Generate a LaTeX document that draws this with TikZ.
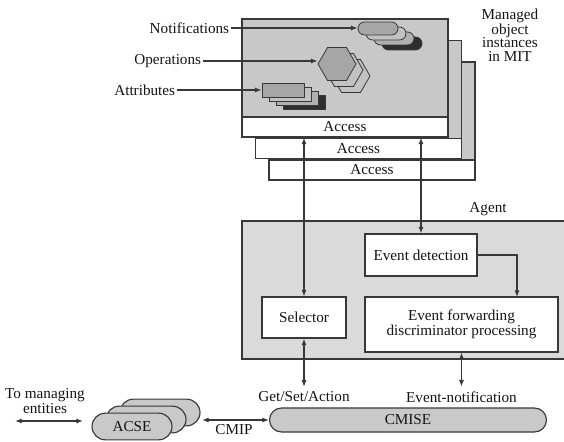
\documentclass[tikz,border=0pt]{standalone}
\usepackage{fontspec}
\setmainfont{Liberation Serif}
\usetikzlibrary{shapes.geometric,shapes.misc,arrows.meta}
\definecolor{ink}{HTML}{383838}
\definecolor{mitgray}{HTML}{C8C8C8}
\definecolor{agentgray}{HTML}{DADADA}
\definecolor{pillgray}{HTML}{C9C9C9}
\definecolor{tone1}{HTML}{A6A6A6}
\definecolor{tone2}{HTML}{C2C2C2}
\definecolor{tone3}{HTML}{B0B0B0}
\definecolor{tone4}{HTML}{2E2E2E}
\begin{document}
\begin{tikzpicture}[x=0.75pt,y=-0.75pt,
  font=\fontsize{11.4}{12}\selectfont,
  line width=0.85pt, draw=ink, text=black!92,
  tip/.tip={Latex[length=5pt,width=3.8pt]},
  arr/.style={draw=ink,-tip},
  dbl/.style={draw=ink,tip-tip},
  procbox/.style={draw=ink,fill=white,inner sep=0pt,align=center},
  accessband/.style={draw=ink,fill=white,inner sep=0pt,minimum width=154.5pt,minimum height=15pt},
  mitbox/.style={draw=ink,fill=mitgray},
  pill/.style={rounded rectangle,draw=ink,fill=pillgray,inner sep=0pt},
  chip/.style={draw=ink,line width=0.6pt,inner sep=0pt},
  capsule/.style={chip,rounded rectangle,minimum width=30pt,minimum height=9.75pt},
  tile/.style={chip,rectangle,minimum width=31.5pt,minimum height=10.5pt},
  hexa/.style={chip,regular polygon,regular polygon sides=6,minimum size=28.5pt},
  lbl/.style={inner sep=1pt}]
\useasboundingbox (0,0) rectangle (564,442);

% Managed object instances: three stacked boxes, back to front
\foreach \k/\nm in {2/acc2,1/acc1,0/acc0}{
  \filldraw[mitbox] (242+13.5*\k,19+21.5*\k) rectangle (448+13.5*\k,137+21.5*\k);
  \node[accessband] (\nm) at (345+13.5*\k,127+21.5*\k) {Access};
}

% Notifications stack
\node[capsule,fill=tone4] (notif3) at (402,43.5) {};
\node[capsule,fill=tone3] (notif2) at (394,38.5) {};
\node[capsule,fill=tone2] (notif1) at (386,33.5) {};
\node[capsule,fill=tone1] (notif0) at (378,28.5) {};

% Operations stack
\node[hexa,fill=tone2] (hex2) at (351,76) {};
\node[hexa,fill=tone2] (hex1) at (344,70) {};
\node[hexa,fill=tone1] (hex0) at (337,64) {};

% Attributes stack
\node[tile,fill=tone4] (attr3) at (304,102) {};
\node[tile,fill=tone3] (attr2) at (297,98) {};
\node[tile,fill=tone2] (attr1) at (290,94) {};
\node[tile,fill=tone1] (attr0) at (283,90) {};

\node[lbl,anchor=east] (ntxt) at (231,28) {Notifications};
\node[lbl,anchor=east] (otxt) at (203,61) {Operations};
\node[lbl,anchor=east] (atxt) at (177,90) {Attributes};
\draw[arr] (ntxt.east) -- (ntxt.east -| notif0.west);
\draw[arr] (otxt.east) -- (otxt.east -| hex0.west);
\draw[arr] (atxt.east) -- (atxt.east -| attr0.west);

\node[align=center,inner sep=0pt,font=\fontsize{11.4}{10}\selectfont] (mit) at (510,35)
  {Managed\\object\\instances\\in MIT};

% Agent
\filldraw[draw=ink,fill=agentgray] (242,221) rectangle (570,359);
\node (agent) at (488,209) {Agent};
\node[procbox,minimum width=84pt,minimum height=31.5pt] (ed) at (421,255) {Event detection};
\node[procbox,minimum width=63pt,minimum height=30.75pt] (sel) at (304,317.5) {Selector};
\node[procbox,minimum width=144.75pt,minimum height=41.25pt,
      font=\fontsize{11.4}{11}\selectfont] (ef) at (461.5,324.5)
  {Event forwarding\\discriminator processing};
\coordinate (efin) at (517,297);

\draw[dbl] (sel.north |- acc0.south) -- (sel.north);
\draw[dbl] (ed.north |- acc0.south) -- (ed.north);
\draw[arr] (ed.east) -| (efin);

\node (gsa) at (304,397) {Get/Set/Action};
\node (evn) at (461.5,397) {Event-notification};
\draw[dbl] (sel.south) -- (gsa.north);
\draw[dbl] (ef.south) -- (evn.north);

% CMISE and ACSE
\node[pill,minimum width=207.75pt,minimum height=18pt] (cmise) at (408,420) {CMISE};
\node[pill,minimum width=60pt,minimum height=20pt] (acse2) at (160,412.5) {};
\node[pill,minimum width=60pt,minimum height=20pt] (acse1) at (146,419.5) {};
\node[pill,minimum width=60pt,minimum height=20pt] (acse0) at (132,426.5) {ACSE};
\coordinate (cmipl) at (202,420);
\draw[dbl] (cmipl) -- (cmise.west);
\node (cmip) at (234,430) {CMIP};

\node[align=center,font=\fontsize{11.4}{9.2}\selectfont] (tme) at (45,401) {To managing\\entities};
\coordinate (tm1) at (15,421);
\coordinate (tm2) at (83,421);
\draw[dbl] (tm1) -- (tm2);
\end{tikzpicture}
\end{document}
